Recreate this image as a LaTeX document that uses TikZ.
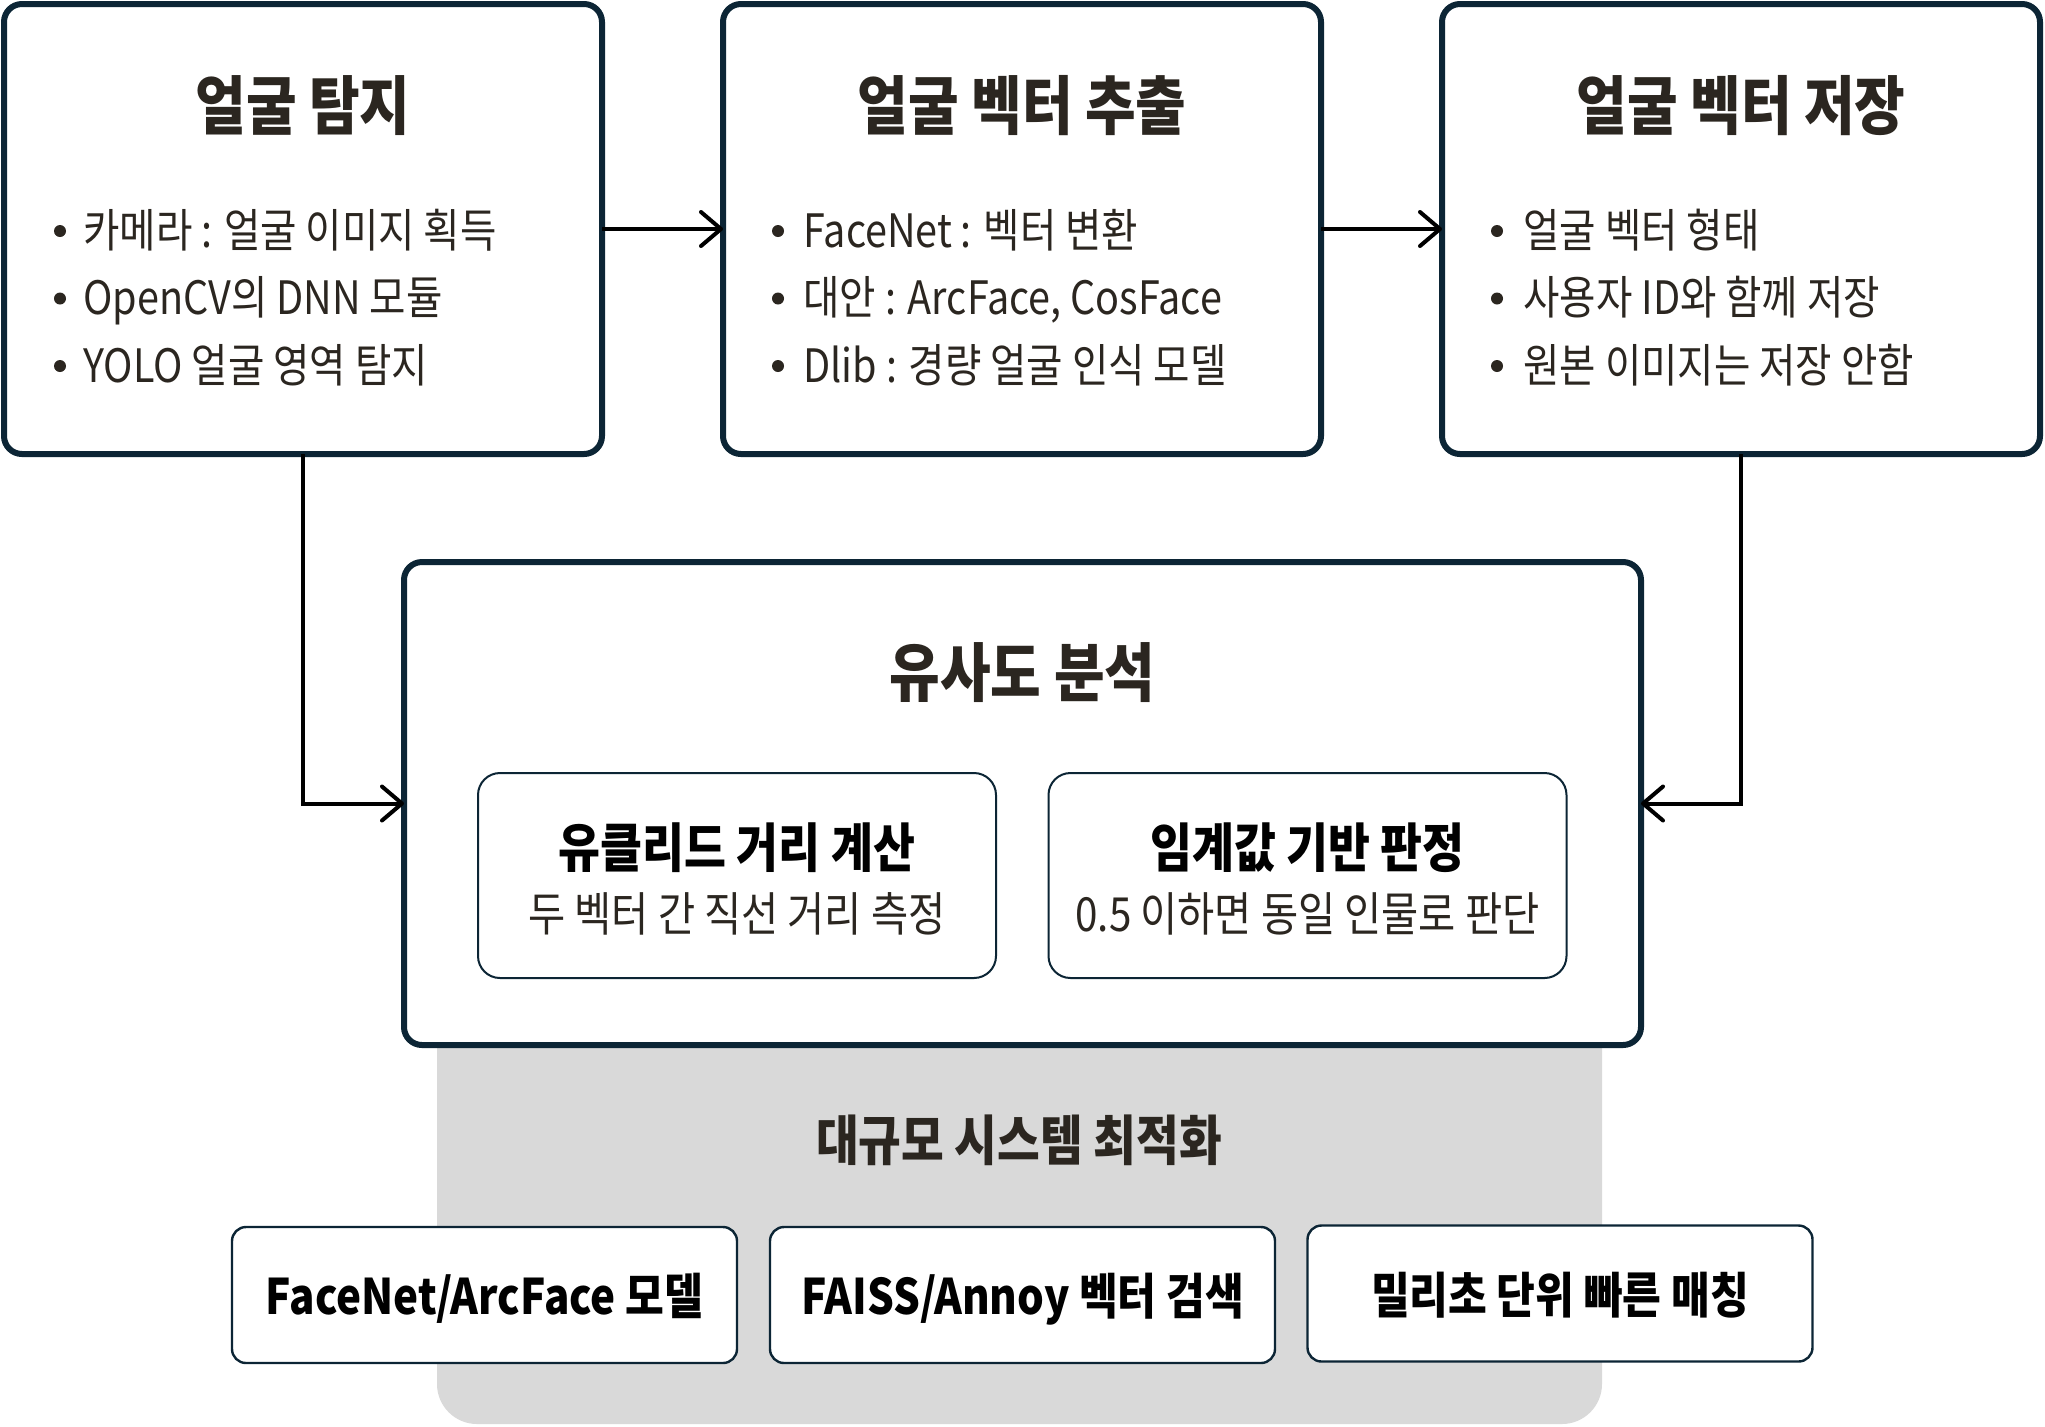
\documentclass[tikz,border=0pt]{standalone}
\usepackage{fontspec}
\setmainfont{Noto Sans CJK KR}[FakeStretch=0.86]
\usetikzlibrary{arrows.meta}
\definecolor{navy}{HTML}{0C2535}
\definecolor{ink}{HTML}{2B2620}
\definecolor{panel}{HTML}{D9D9D9}
\tikzset{
    bigbox/.style={draw=navy, line width=3pt, rounded corners=9pt, fill=white, outer sep=0pt},
    subbox/.style={draw=navy, line width=1pt, rounded corners=11pt, fill=white, outer sep=0pt,
        minimum width=259pt, minimum height=102.5pt},
    optbox/.style={draw=navy, line width=1.2pt, rounded corners=7pt, fill=white, outer sep=0pt,
        minimum width=252.5pt, minimum height=68pt},
    head/.style={inner sep=0pt, text=ink, font=\bfseries\fontsize{32}{38}\selectfont,
        text height=24.3pt, text depth=1.9pt},
    item/.style={inner sep=0pt, anchor=west, text=ink, font=\fontsize{23}{27}\selectfont,
        text height=17.5pt, text depth=1.4pt},
    subhead/.style={inner sep=0pt, font=\bfseries\fontsize{26.5}{31}\selectfont,
        text height=20.1pt, text depth=1.6pt},
    subline/.style={inner sep=0pt, text=ink, font=\fontsize{23.5}{28}\selectfont,
        text height=17.9pt, text depth=1.4pt},
    opthead/.style={inner sep=0pt, text=ink, font=\bfseries\fontsize{27}{32}\selectfont,
        text height=20.5pt, text depth=1.6pt},
    optline/.style={inner sep=0pt, font=\bfseries\fontsize{24.5}{29}\selectfont,
        text height=18.6pt, text depth=1.5pt},
    dot/.style={circle, fill=ink, inner sep=0pt, minimum size=6pt},
    flow/.style={line width=2pt, -{Straight Barb[length=10pt, width=17pt, round]}}
}
\begin{document}
\begin{tikzpicture}[x=0.5pt, y=-0.5pt]
    \useasboundingbox (0,0) rectangle (2045,1426);

    \fill[panel, rounded corners=20pt] (437,900) rectangle (1602,1424);

    \node[bigbox, minimum width=299pt, minimum height=225pt] (detect) at (303,229) {};
    \node[bigbox, minimum width=299pt, minimum height=225pt] (extract) at (1022,229) {};
    \node[bigbox, minimum width=299pt, minimum height=225pt] (store) at (1741,229) {};
    \node[bigbox, minimum width=618.5pt, minimum height=241.5pt] (sim) at (1022.5,803.5) {};

    \node[head] (detectT) at (303,107) {얼굴 탐지};
    \node[head] (extractT) at (1022,107) {얼굴 벡터 추출};
    \node[head] (storeT) at (1741,107) {얼굴 벡터 저장};
    \node[head] (simT) at (1022.5,674) {유사도 분석};

    \foreach[count=\i] \line in {카메라 : 얼굴 이미지 획득, OpenCV의 DNN 모듈, YOLO 얼굴 영역 탐지} {
        \node[dot] (dd\i) at (60, 163.5+67.5*\i) {};
        \node[item] (d\i) at (83, 163.5+67.5*\i) {\line};
    }
    \foreach[count=\i] \line in {FaceNet : 벡터 변환, {대안 : ArcFace, CosFace}, Dlib : 경량 얼굴 인식 모델} {
        \node[dot] (ed\i) at (778, 163.5+67.5*\i) {};
        \node[item] (e\i) at (803, 163.5+67.5*\i) {\line};
    }
    \foreach[count=\i] \line in {얼굴 벡터 형태, 사용자 ID와 함께 저장, 원본 이미지는 저장 안함} {
        \node[dot] (sd\i) at (1497, 163.5+67.5*\i) {};
        \node[item] (s\i) at (1523, 163.5+67.5*\i) {\line};
    }

    \node[subbox] (euclid) at (737,875.5) {};
    \node[subbox] (thresh) at (1307.5,875.5) {};
    \node[subhead] (euclidT) at (737,849) {유클리드 거리 계산};
    \node[subline] (euclidS) at (737,915) {두 벡터 간 직선 거리 측정};
    \node[subhead] (threshT) at (1307.5,849) {임계값 기반 판정};
    \node[subline] (threshS) at (1307.5,915) {0.5 이하면 동일 인물로 판단};

    \node[opthead] (optT) at (1019,1142) {대규모 시스템 최적화};
    \node[optbox] (model) at (484.5,1295) {};
    \node[optbox] (search) at (1022.5,1295) {};
    \node[optbox] (match) at (1560,1293.5) {};
    \node[optline] (modelT) at (484.5,1297) {FaceNet/ArcFace 모델};
    \node[optline] (searchT) at (1022.5,1297) {FAISS/Annoy 벡터 검색};
    \node[optline] (matchT) at (1560,1296) {밀리초 단위 빠른 매칭};

    \draw[flow] (detect.east) -- (extract.west);
    \draw[flow] (extract.east) -- (store.west);
    \draw[flow] (detect.south) |- (sim.west);
    \draw[flow] (store.south) |- (sim.east);
\end{tikzpicture}
\end{document}
